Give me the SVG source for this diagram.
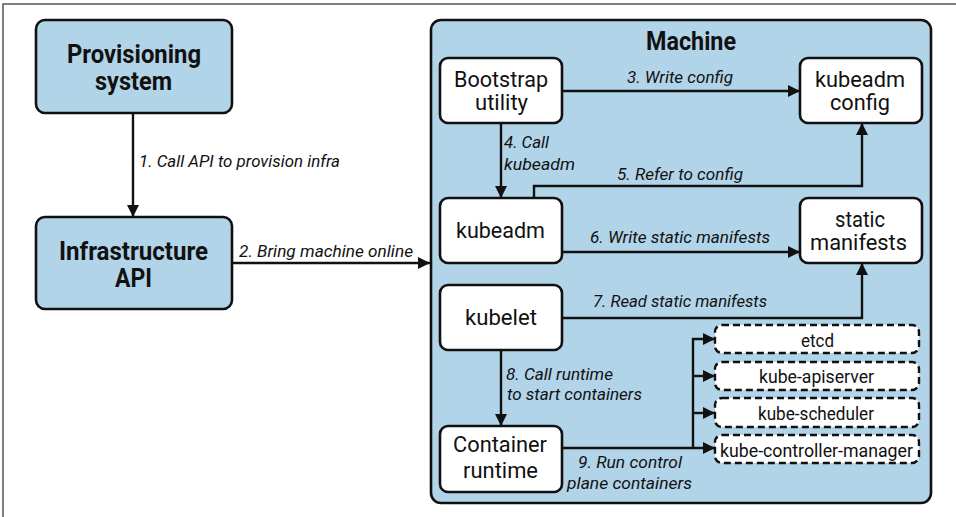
<svg xmlns="http://www.w3.org/2000/svg" width="956" height="517" viewBox="0 0 956 517">
<style>
text{font-family:Roboto,"Liberation Sans",sans-serif;fill:#111}
.big{font-size:26px;font-weight:bold}
.mid{font-size:22px}
.lbl{font-size:17px;font-style:italic}
.sm{font-size:18px}
.blue{fill:#b2d4e9;stroke:#111;stroke-width:2.6}
.white{fill:#fff;stroke:#111;stroke-width:2.6}
.dash{fill:#fff;stroke:#111;stroke-width:2.4;stroke-dasharray:7 4}
.conn path{fill:none;stroke:#111;stroke-width:2.4}
</style>
<defs>
<marker id="ah" markerUnits="userSpaceOnUse" markerWidth="12" markerHeight="12" viewBox="0 0 12 12" refX="12" refY="6" orient="auto">
<path d="M0,0 L12,6 L0,12 z" fill="#111"/>
</marker>
</defs>
<rect width="956" height="517" fill="#fff"/>
<path d="M3,517 V4 H956" fill="none" stroke="#555" stroke-width="1.5"/>

<g id="provisioning">
<rect class="blue" x="36" y="20" width="196" height="93" rx="9"/>
<text class="big" x="67" y="63" textLength="134" lengthAdjust="spacingAndGlyphs">Provisioning</text>
<text class="big" x="95" y="90" textLength="77" lengthAdjust="spacingAndGlyphs">system</text>
</g>
<g id="infra">
<rect class="blue" x="36" y="217" width="196" height="92" rx="9"/>
<text class="big" x="59" y="260" textLength="149" lengthAdjust="spacingAndGlyphs">Infrastructure</text>
<text class="big" x="115" y="287" textLength="37" lengthAdjust="spacingAndGlyphs">API</text>
</g>
<g id="machine">
<rect class="blue" x="431" y="20" width="500" height="483" rx="10"/>
<text class="big" x="646" y="50" textLength="90" lengthAdjust="spacingAndGlyphs">Machine</text>
</g>
<g id="bootstrap">
<rect class="white" x="440" y="58" width="122" height="65" rx="8"/>
<text class="mid" x="454" y="87" textLength="94" lengthAdjust="spacingAndGlyphs">Bootstrap</text>
<text class="mid" x="475" y="110" textLength="53" lengthAdjust="spacingAndGlyphs">utility</text>
</g>
<g id="kubeadm-config">
<rect class="white" x="800" y="58" width="122" height="65" rx="8"/>
<text class="mid" x="815" y="87" textLength="90" lengthAdjust="spacingAndGlyphs">kubeadm</text>
<text class="mid" x="830" y="110" textLength="60" lengthAdjust="spacingAndGlyphs">config</text>
</g>
<g id="kubeadm">
<rect class="white" x="440" y="198" width="122" height="65" rx="8"/>
<text class="mid" x="456" y="238" textLength="89" lengthAdjust="spacingAndGlyphs">kubeadm</text>
</g>
<g id="static-manifests">
<rect class="white" x="800" y="198" width="122" height="65" rx="8"/>
<text class="mid" x="835" y="227" textLength="50" lengthAdjust="spacingAndGlyphs">static</text>
<text class="mid" x="810" y="250" textLength="97" lengthAdjust="spacingAndGlyphs">manifests</text>
</g>
<g id="kubelet">
<rect class="white" x="440" y="285" width="122" height="65" rx="8"/>
<text class="mid" x="465" y="325" textLength="72" lengthAdjust="spacingAndGlyphs">kubelet</text>
</g>
<g id="container-runtime">
<rect class="white" x="440" y="426" width="122" height="66" rx="8"/>
<text class="mid" x="453" y="452" textLength="94" lengthAdjust="spacingAndGlyphs">Container</text>
<text class="mid" x="463" y="478" textLength="75" lengthAdjust="spacingAndGlyphs">runtime</text>
</g>
<g id="etcd">
<rect class="dash" x="715" y="325" width="204" height="28" rx="7"/>
<text class="sm" x="801" y="347" textLength="33" lengthAdjust="spacingAndGlyphs">etcd</text>
</g>
<g id="kube-apiserver">
<rect class="dash" x="715" y="362" width="204" height="28" rx="7"/>
<text class="sm" x="759" y="383" textLength="115" lengthAdjust="spacingAndGlyphs">kube-apiserver</text>
</g>
<g id="kube-scheduler">
<rect class="dash" x="715" y="398" width="204" height="29" rx="7"/>
<text class="sm" x="758" y="420" textLength="116" lengthAdjust="spacingAndGlyphs">kube-scheduler</text>
</g>
<g id="kube-controller-manager">
<rect class="dash" x="715" y="435" width="204" height="28" rx="7"/>
<text class="sm" x="720" y="457" textLength="193" lengthAdjust="spacingAndGlyphs">kube-controller-manager</text>
</g>

<g id="connectors" class="conn">
<path d="M133,113 V217" marker-end="url(#ah)"/>
<path d="M232,263 H430" marker-end="url(#ah)"/>
<path d="M562,91 H800" marker-end="url(#ah)"/>
<path d="M501,123 V198" marker-end="url(#ah)"/>
<path d="M534,198 V186 H862 V123" marker-end="url(#ah)"/>
<path d="M562,252 H800" marker-end="url(#ah)"/>
<path d="M562,318 H862 V263" marker-end="url(#ah)"/>
<path d="M501,350 V426" marker-end="url(#ah)"/>
<path d="M562,448 H715" marker-end="url(#ah)"/>
<path d="M693,448 V339 H715" marker-end="url(#ah)"/>
<path d="M693,376 H715" marker-end="url(#ah)"/>
<path d="M693,413 H715" marker-end="url(#ah)"/>
</g>
<g id="labels">
<text class="lbl" x="139" y="167" textLength="201" lengthAdjust="spacingAndGlyphs">1. Call API to provision infra</text>
<text class="lbl" x="239" y="257" textLength="174" lengthAdjust="spacingAndGlyphs">2. Bring machine online</text>
<text class="lbl" x="627" y="83" textLength="106" lengthAdjust="spacingAndGlyphs">3. Write config</text>
<text class="lbl" x="504" y="148" textLength="45" lengthAdjust="spacingAndGlyphs">4. Call</text>
<text class="lbl" x="504" y="170" textLength="71" lengthAdjust="spacingAndGlyphs">kubeadm</text>
<text class="lbl" x="617" y="180" textLength="126" lengthAdjust="spacingAndGlyphs">5. Refer to config</text>
<text class="lbl" x="590" y="243" textLength="180" lengthAdjust="spacingAndGlyphs">6. Write static manifests</text>
<text class="lbl" x="593" y="307" textLength="174" lengthAdjust="spacingAndGlyphs">7. Read static manifests</text>
<text class="lbl" x="506" y="380" textLength="107" lengthAdjust="spacingAndGlyphs">8. Call runtime</text>
<text class="lbl" x="507" y="400" textLength="135" lengthAdjust="spacingAndGlyphs">to start containers</text>
<text class="lbl" x="578" y="468" textLength="104" lengthAdjust="spacingAndGlyphs">9. Run control</text>
<text class="lbl" x="567" y="489" textLength="125" lengthAdjust="spacingAndGlyphs">plane containers</text>
</g>
</svg>
